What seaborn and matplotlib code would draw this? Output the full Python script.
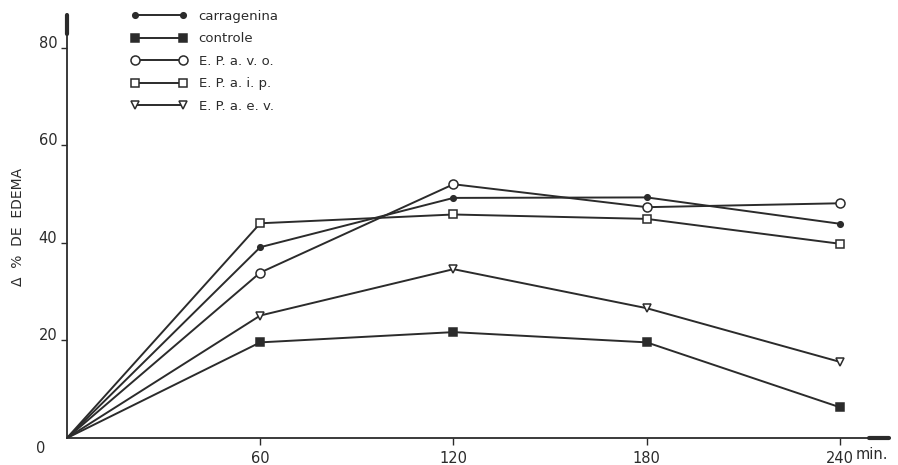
import matplotlib
matplotlib.use("Agg")
import matplotlib.pyplot as plt
from matplotlib.lines import Line2D
import seaborn as sns
import pandas as pd

# Data (time in minutes, % edema).
times = [0, 60, 120, 180, 240]
carragenina = [0, 39.1, 49.2, 49.3, 43.9]
controle = [0, 19.6, 21.7, 19.6, 6.3]
ep_avo = [0, 33.9, 52.0, 47.3, 48.1]
ep_aip = [0, 44.0, 45.8, 44.9, 39.8]
ep_aev = [0, 25.1, 34.6, 26.6, 15.6]

series_names = ["carragenina", "controle", "E. P. a. v. o.", "E. P. a. i. p.",
                "E. P. a. e. v."]
series_values = [carragenina, controle, ep_avo, ep_aip, ep_aev]

x_ticks = [60, 120, 180, 240]
y_ticks = [0, 20, 40, 60, 80]

# Marker styles per series: (marker, size, facecolor).
ink = "#2b2b2b"
styles = {
    "carragenina": ("o", 4, ink),
    "controle": ("s", 5.5, ink),
    "E. P. a. v. o.": ("o", 6.5, "white"),
    "E. P. a. i. p.": ("s", 5.5, "white"),
    "E. P. a. e. v.": ("v", 6, "white"),
}

sns.set_style("ticks")
plt.rcParams["font.family"] = ["DejaVu Sans"]

fig = plt.figure(figsize=(8.98, 4.65), dpi=100)
ax = fig.add_axes([0.0746, 0.058, 0.911, 0.91])

for name, vals in zip(series_names, series_values):
    df = pd.DataFrame({"t": times, "v": vals})
    m, ms, fc = styles[name]
    sns.lineplot(data=df, x="t", y="v", ax=ax, color=ink, lw=1.4,
                 marker=m, markersize=ms, markerfacecolor=fc,
                 markeredgecolor=ink, markeredgewidth=1.1,
                 markevery=[1, 2, 3, 4])

ax.set_xlim(0, 254)
ax.set_ylim(0, 86.7)
ax.set_xticks(x_ticks)
ax.set_yticks(y_ticks)
ax.set_xticklabels([str(t) for t in x_ticks], fontsize=10.5, color=ink)
# The "0" is drawn separately, below the origin.
ax.set_yticklabels([""] + [str(t) for t in y_ticks[1:]], fontsize=10.5,
                   color=ink)
ax.tick_params(axis="x", direction="out", length=5, width=1, color=ink,
               pad=4)
ax.tick_params(axis="y", direction="out", length=4, width=1, color=ink,
               pad=3)
ax.yaxis.get_major_ticks()[0].tick1line.set_visible(False)
for lbl in ax.get_yticklabels():
    lbl.set_verticalalignment("baseline")
ax.set_xlabel("")
ax.set_ylabel("Δ  %  DE  EDEMA", fontsize=10, color=ink, labelpad=10)

ax.annotate("0", xy=(0, 0), xycoords="data", xytext=(-22, -3),
            textcoords="offset pixels", ha="right", va="top",
            fontsize=10.5, color=ink)
ax.annotate("min.", xy=(245, 0), xycoords="data", xytext=(0, -9),
            textcoords="offset pixels", ha="left", va="top",
            fontsize=10.5, color=ink)

# Spines.
sns.despine(ax=ax, top=True, right=True)
ax.spines["left"].set_color(ink)
ax.spines["bottom"].set_color(ink)
ax.spines["left"].set_linewidth(1.3)
ax.spines["bottom"].set_linewidth(1.3)

# Thick ends of the axes.
ax.plot([0, 0], [0.955, 1.0], transform=ax.transAxes, color=ink, lw=3,
        clip_on=False)
ax.plot([0.98, 1.005], [0, 0], transform=ax.transAxes, color=ink, lw=3,
        clip_on=False)

# Legend.
handles = []
for name in series_names:
    m, ms, fc = styles[name]
    handles.append(Line2D([], [], color=ink, lw=1.4, marker=m, markersize=ms,
                          markerfacecolor=fc, markeredgecolor=ink,
                          markeredgewidth=1.1))
ax.legend(handles, series_names, loc="upper left",
          bbox_to_anchor=(0.064, 1.04), frameon=False, numpoints=2,
          handlelength=4.2, handletextpad=0.9, labelspacing=0.72,
          fontsize=9.5, labelcolor=ink)

plt.savefig("out.png", dpi=100)
